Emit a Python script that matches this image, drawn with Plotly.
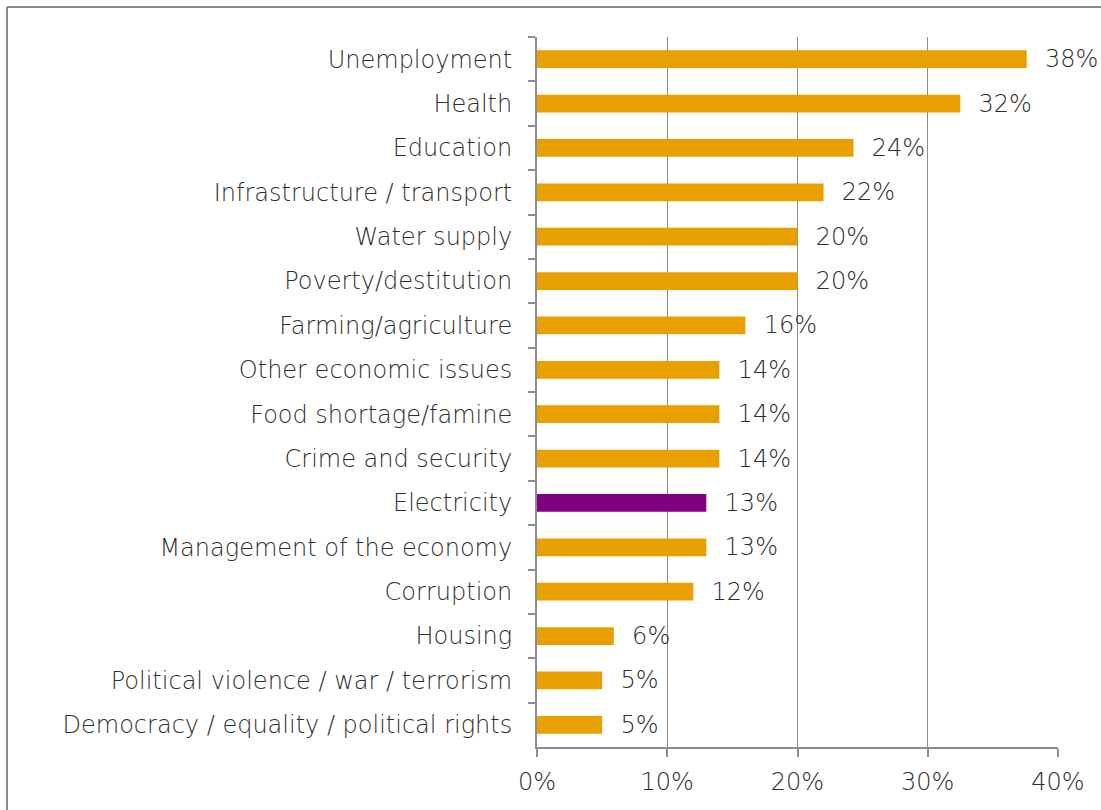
import plotly.graph_objects as go

categories = ["Unemployment", "Health", "Education", "Infrastructure / transport",
              "Water supply", "Poverty/destitution", "Farming/agriculture",
              "Other economic issues", "Food shortage/famine", "Crime and security",
              "Electricity", "Management of the economy", "Corruption", "Housing",
              "Political violence / war / terrorism", "Democracy / equality / political rights"]
values = [37.6, 32.5, 24.3, 22.0, 20.0, 20.0, 16.0, 14.0, 14.0, 14.0, 13.0, 13.0, 12.0, 5.9, 5.0, 5.0]
labels = ["38%", "32%", "24%", "22%", "20%", "20%", "16%", "14%", "14%", "14%",
          "13%", "13%", "12%", "6%", "5%", "5%"]
tick_vals = [0, 10, 20, 30, 40]
tick_text = ["0%", "10%", "20%", "30%", "40%"]

ORANGE = "#E8A000"
PURPLE = "#800080"
colors = [PURPLE if c == "Electricity" else ORANGE for c in categories]
GRAY = "#8c8c8c"
TXT = "#2e2e2e"
FONT = "DejaVu Sans"
FS = 24
W = 200

fig = go.Figure(go.Bar(
    x=values, y=categories, orientation="h",
    marker=dict(color=colors, line=dict(width=0)),
    text=["  " + l for l in labels], textposition="outside", cliponaxis=False,
    constraintext="none",
    textfont=dict(family=FONT, size=FS, color=TXT, weight=W),
    hoverinfo="skip",
))

fig.update_layout(
    width=1101, height=810,
    margin=dict(l=537, r=43, t=37, b=63),
    paper_bgcolor="white", plot_bgcolor="white",
    bargap=0.6, showlegend=False,
    font=dict(family=FONT, size=FS, color=TXT, weight=W),
    xaxis=dict(range=[0, 40], tickvals=tick_vals, ticktext=tick_text,
               showgrid=True, gridcolor=GRAY, gridwidth=1,
               showline=True, linecolor=GRAY, linewidth=2,
               ticks="outside", ticklen=8, tickcolor=GRAY, tickwidth=2,
               zeroline=False, ticklabelstandoff=4,
               tickfont=dict(family=FONT, size=FS, color=TXT, weight=W)),
    yaxis=dict(autorange="reversed", showgrid=False, showline=True, linecolor=GRAY,
               linewidth=2, ticks="outside", ticklen=7, tickcolor=GRAY, tickwidth=2,
               tickson="boundaries", zeroline=False, ticklabelstandoff=18,
               tickfont=dict(family=FONT, size=FS, color=TXT, weight=W)),
)

# outer frame lines (left and top)
fig.add_shape(type="line", xref="paper", yref="paper",
              x0=(7 - 537) / 521, x1=(1101 - 537) / 521,
              y0=(747 - 7) / 710, y1=(747 - 7) / 710,
              line=dict(color=GRAY, width=2))
fig.add_shape(type="line", xref="paper", yref="paper",
              x0=(7 - 537) / 521, x1=(7 - 537) / 521,
              y0=(747 - 7) / 710, y1=(747 - 815) / 710,
              line=dict(color=GRAY, width=2))

fig.write_html("out.html")
